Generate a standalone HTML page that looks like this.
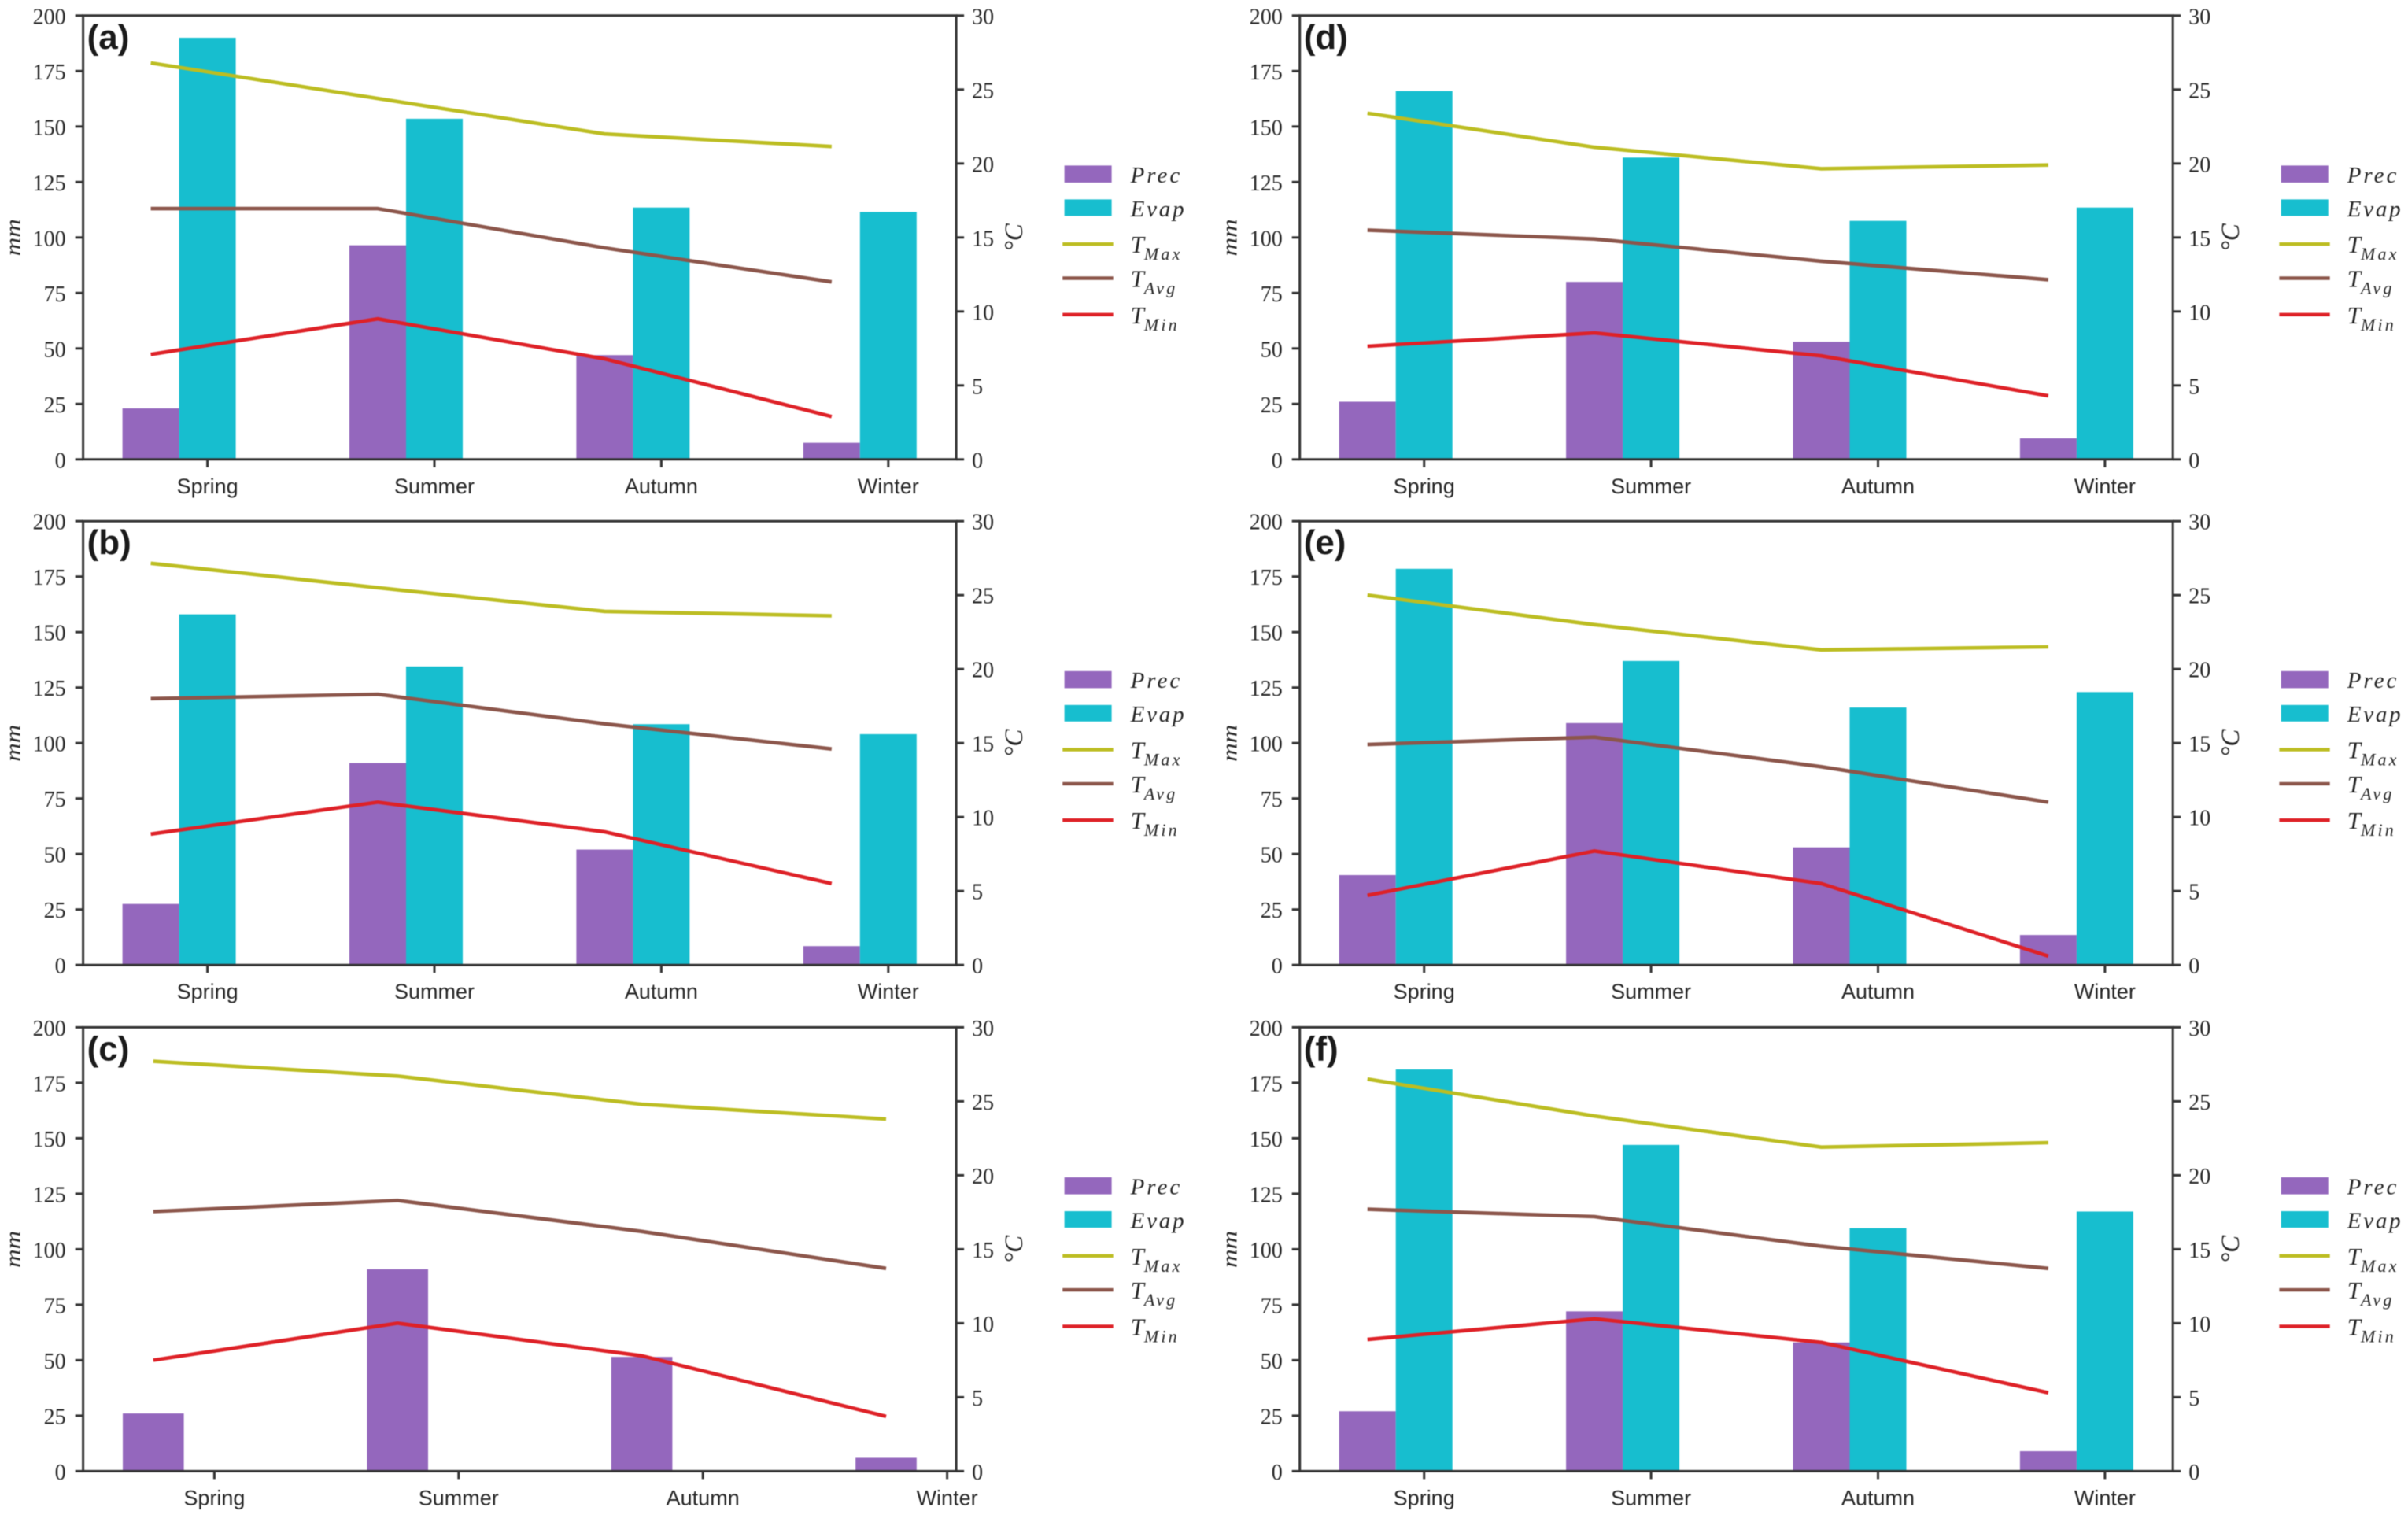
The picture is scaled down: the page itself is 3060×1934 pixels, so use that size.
<!DOCTYPE html>
<html lang="en">
<head>
<meta charset="utf-8">
<title>Seasonal precipitation, evaporation and temperature</title>
<style>
html,body{margin:0;padding:0;background:#fff;}
svg{display:block;filter:blur(0.6px);}
.serif{font-family:"Liberation Serif",serif;fill:#262626;}
.sans{font-family:"Liberation Sans",sans-serif;fill:#262626;}
</style>
</head>
<body>
<svg id="figure" xmlns="http://www.w3.org/2000/svg" width="3060" height="1934" viewBox="0 0 3060 1934">
<rect x="0" y="0" width="3060" height="1934" fill="#ffffff"/>
</svg>
<script>
const seasons = ['Spring', 'Summer', 'Autumn', 'Winter'];
const mmTicks = [0, 25, 50, 75, 100, 125, 150, 175, 200];
const tempTicks = [0, 5, 10, 15, 20, 25, 30];

const precA = [23, 96.5, 47, 7.5];
const evapA = [190, 153.5, 113.5, 111.5];
const tmaxA = [26.8, 24.4, 22, 21.15];
const tavgA = [16.95, 16.95, 14.3, 12];
const tminA = [7.1, 9.5, 6.8, 2.9];

const precB = [27.5, 91, 52, 8.5];
const evapB = [158, 134.5, 108.5, 104];
const tmaxB = [27.15, 25.5, 23.9, 23.6];
const tavgB = [18, 18.3, 16.3, 14.6];
const tminB = [8.85, 11, 9, 5.5];

const precC = [26, 91, 51.5, 6];
const evapC = [];
const tmaxC = [27.7, 26.7, 24.8, 23.8];
const tavgC = [17.55, 18.3, 16.2, 13.7];
const tminC = [7.5, 10, 7.8, 3.7];

const precD = [26, 80, 53, 9.5];
const evapD = [166, 136, 107.5, 113.5];
const tmaxD = [23.4, 21.1, 19.65, 19.9];
const tavgD = [15.5, 14.9, 13.4, 12.15];
const tminD = [7.65, 8.55, 7, 4.3];

const precE = [40.5, 109, 53, 13.5];
const evapE = [178.5, 137, 116, 123];
const tmaxE = [25, 23, 21.3, 21.5];
const tavgE = [14.9, 15.4, 13.4, 11];
const tminE = [4.7, 7.7, 5.5, 0.6];

const precF = [27, 72, 58, 9];
const evapF = [181, 147, 109.5, 117];
const tmaxF = [26.5, 24, 21.9, 22.2];
const tavgF = [17.7, 17.2, 15.2, 13.7];
const tminF = [8.9, 10.3, 8.7, 5.3];

const svg = document.getElementById('figure');
const NS = 'http://www.w3.org/2000/svg';
const INK = '#333333';
const COLORS = {prec:'#9467bd', evap:'#17becf', tmax:'#bcbd22', tavg:'#8c564b', tmin:'#de2127'};
const PANEL_W = 1109.5, PANEL_H = 564, MM_MAX = 200, TEMP_MAX = 30;

function make(parent, tag, attrs, text) {
  const el = document.createElementNS(NS, tag);
  for (const k in attrs) el.setAttribute(k, attrs[k]);
  if (text !== undefined) el.textContent = text;
  parent.appendChild(el);
  return el;
}

function drawPanel(label, left, top, firstTick, step, barW, prec, evap, tmax, tavg, tmin) {
  const right = left + PANEL_W, bottom = top + PANEL_H;
  const xTick = i => left + firstTick + i * step;
  const xCentre = i => xTick(i) - barW;
  const yMm = v => bottom - (v / MM_MAX) * PANEL_H;
  const yTemp = v => bottom - (v / TEMP_MAX) * PANEL_H;

  const g = make(svg, 'g', {});
  
  

  prec.forEach((v, i) => {
    const bar = make(g, 'rect', {x: xCentre(i) - barW / 2, y: yMm(v), width: barW, height: bottom - yMm(v), fill: COLORS.prec});
    
    
  });
  evap.forEach((v, i) => {
    const bar = make(g, 'rect', {x: xCentre(i) + barW / 2, y: yMm(v), width: barW, height: bottom - yMm(v), fill: COLORS.evap});
    
    
  });

  [['tmax', tmax], ['tavg', tavg], ['tmin', tmin]].forEach(([key, series]) => {
    const pts = series.map((v, i) => xCentre(i).toFixed(1) + ',' + yTemp(v).toFixed(1)).join(' ');
    const line = make(g, 'polyline', {points: pts, fill: 'none', stroke: COLORS[key], 'stroke-width': 4.6, 'stroke-linejoin': 'round'});
    
    
  });

  const frame = make(g, 'path', {d: 'M' + left + ' ' + top + 'H' + right + 'V' + bottom + 'H' + left + 'Z', fill: 'none', stroke: INK, 'stroke-width': 3});
  
  

  mmTicks.forEach(v => {
    const tick = make(g, 'line', {x1: left - 10, x2: left, y1: yMm(v), y2: yMm(v), stroke: INK, 'stroke-width': 3});
    
    
    const txt = make(g, 'text', {x: left - 22, y: yMm(v) + 10.5, 'text-anchor': 'end', 'font-size': 28, class: 'serif'}, String(v));
    
    
  });
  tempTicks.forEach(v => {
    const tick = make(g, 'line', {x1: right, x2: right + 10, y1: yTemp(v), y2: yTemp(v), stroke: INK, 'stroke-width': 3});
    
    
    const txt = make(g, 'text', {x: right + 20, y: yTemp(v) + 10.5, 'font-size': 28, class: 'serif'}, String(v));
    
    
  });
  seasons.forEach((s, i) => {
    const tick = make(g, 'line', {x1: xTick(i), x2: xTick(i), y1: bottom, y2: bottom + 10, stroke: INK, 'stroke-width': 3});
    
    
    const txt = make(g, 'text', {x: xTick(i), y: bottom + 43, 'text-anchor': 'middle', 'font-size': 27, class: 'sans'}, s);
    
    
  });

  const tag = make(g, 'text', {x: left + 5, y: top + 42, 'font-size': 44, 'font-weight': 'bold', class: 'sans', style: 'fill:#1a1a1a'}, '(' + label + ')');
  
  

  const cy = top + PANEL_H / 2;
  const mmX = left - 80;
  const mm = make(g, 'text', {x: mmX, y: cy, transform: 'rotate(-90 ' + mmX + ' ' + cy + ')', 'text-anchor': 'middle', 'font-size': 27, 'font-style': 'italic', textLength: 47, lengthAdjust: 'spacingAndGlyphs', class: 'serif'}, 'mm');
  
  
  const degX = right + 84;
  const deg = make(g, 'text', {x: degX, y: cy, transform: 'rotate(-90 ' + degX + ' ' + cy + ')', 'text-anchor': 'middle', 'font-size': 33, 'font-style': 'italic', class: 'serif'}, '°C');
  
  

  drawLegend(g, left, top);
}

function drawLegend(parent, left, top) {
  const lg = make(parent, 'g', {});
  
  
  const patchX = left + 1247, patchW = 60, lineX = left + 1244.7, lineW = 64.3, textX = left + 1331;

  const p1 = make(lg, 'rect', {x: patchX, y: top + 190.6, width: patchW, height: 21.6, fill: COLORS.prec});
  
  
  const t1 = make(lg, 'text', {x: textX, y: top + 212, 'font-size': 29, 'font-style': 'italic', 'letter-spacing': 3, class: 'serif'}, 'Prec');
  
  

  const p2 = make(lg, 'rect', {x: patchX, y: top + 233.6, width: patchW, height: 21, fill: COLORS.evap});
  
  
  const t2 = make(lg, 'text', {x: textX, y: top + 255, 'font-size': 29, 'font-style': 'italic', 'letter-spacing': 2.8, class: 'serif'}, 'Evap');
  
  

  [['tmax', 'Max', 290.4], ['tavg', 'Avg', 333.7], ['tmin', 'Min', 380]].forEach(([key, sub, dy]) => {
    const ln = make(lg, 'line', {x1: lineX, x2: lineX + lineW, y1: top + dy, y2: top + dy, stroke: COLORS[key], 'stroke-width': 4.4});
    
    
    const txt = make(lg, 'text', {x: textX, y: top + dy + 11, 'font-size': 31, 'font-style': 'italic', class: 'serif'});
    
    
    make(txt, 'tspan', {}, 'T');
    make(txt, 'tspan', {dy: 9, 'font-size': 22, 'letter-spacing': 3.2}, sub);
  });
}

const leftCol = 105.6, rightCol = 1651.7;
const row1 = 19.8, row2 = 662.2, row3 = 1305.4;
drawPanel('a', leftCol, row1, 158, 288.4, 72, precA, evapA, tmaxA, tavgA, tminA);
drawPanel('b', leftCol, row2, 158, 288.4, 72, precB, evapB, tmaxB, tavgB, tminB);
drawPanel('c', leftCol, row3, 166.8, 310.4, 77.6, precC, evapC, tmaxC, tavgC, tminC);
drawPanel('d', rightCol, row1, 158, 288.4, 72, precD, evapD, tmaxD, tavgD, tminD);
drawPanel('e', rightCol, row2, 158, 288.4, 72, precE, evapE, tmaxE, tavgE, tminE);
drawPanel('f', rightCol, row3, 158, 288.4, 72, precF, evapF, tmaxF, tavgF, tminF);
</script>
</body>
</html>
